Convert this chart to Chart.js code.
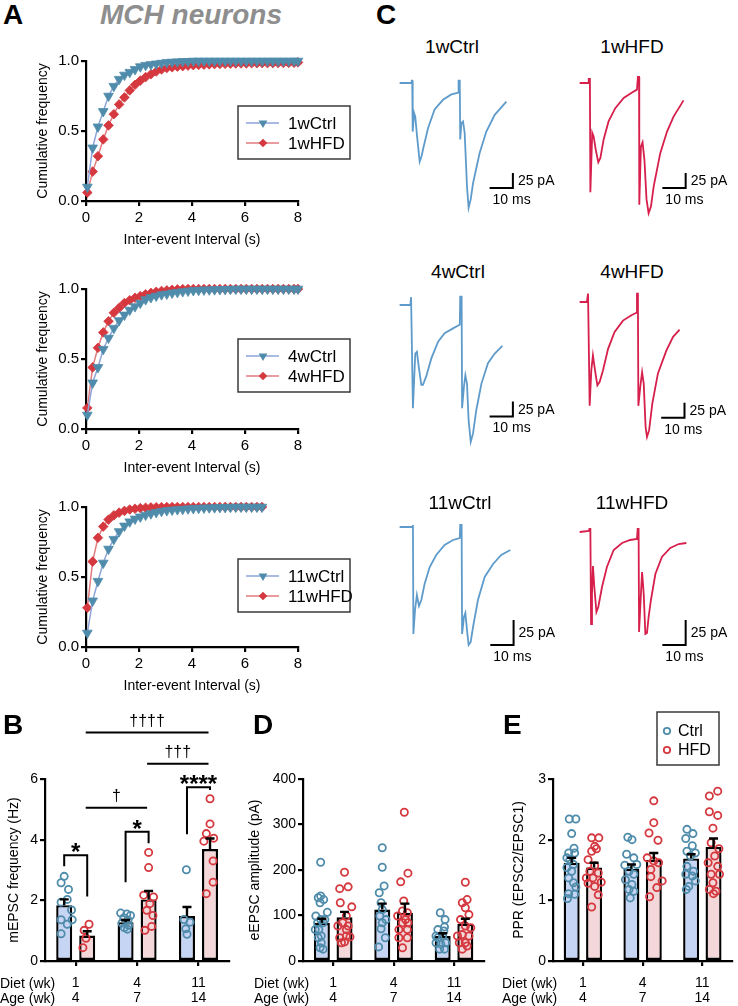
<!DOCTYPE html>
<html>
<head>
<meta charset="utf-8">
<script src="https://cdn.jsdelivr.net/npm/chart.js@4.4.1/dist/chart.umd.min.js"></script>
<style>
  body { margin: 0; background: #fff; width: 738px; height: 1006px; position: relative; overflow: hidden;
         font-family: "Liberation Sans", Arial, sans-serif; }
  canvas { position: absolute; }
  .lbl { position: absolute; white-space: nowrap; color: #000; }
  .panel { font-size: 28px; line-height: 28px; font-weight: bold; }
  .trace { font-size: 19px; line-height: 19px; width: 120px; text-align: center; }
  .row { font-size: 14px; line-height: 14px; }
</style>
</head>
<body>

<canvas id="cdf1" width="370" height="215" style="left:0;top:40px"></canvas>
<canvas id="cdf4" width="370" height="215" style="left:0;top:268px"></canvas>
<canvas id="cdf11" width="370" height="215" style="left:0;top:486px"></canvas>

<canvas id="tr1c" width="175" height="170" style="left:388px;top:65px"></canvas>
<canvas id="tr1h" width="170" height="170" style="left:568px;top:65px"></canvas>
<canvas id="tr4c" width="175" height="170" style="left:388px;top:287px"></canvas>
<canvas id="tr4h" width="170" height="170" style="left:568px;top:284px"></canvas>
<canvas id="tr11c" width="175" height="160" style="left:388px;top:512px"></canvas>
<canvas id="tr11h" width="170" height="160" style="left:568px;top:517px"></canvas>

<canvas id="freqChart" width="235" height="316" style="left:0;top:690px"></canvas>
<canvas id="ampChart" width="245" height="316" style="left:245px;top:690px"></canvas>
<canvas id="pprChart" width="238" height="316" style="left:500px;top:690px"></canvas>

<div class="lbl panel" style="left:3px;top:1px">A</div>
<div class="lbl panel" style="left:81px;top:1px;width:220px;text-align:center;color:#8e8e8e;font-style:italic">MCH neurons</div>
<div class="lbl panel" style="left:376px;top:1px">C</div>
<div class="lbl panel" style="left:3px;top:711px">B</div>
<div class="lbl panel" style="left:253px;top:711px">D</div>
<div class="lbl panel" style="left:503px;top:711px">E</div>

<div class="lbl trace" style="left:392px;top:37px">1wCtrl</div>
<div class="lbl trace" style="left:572px;top:37px">1wHFD</div>
<div class="lbl trace" style="left:398px;top:262px">4wCtrl</div>
<div class="lbl trace" style="left:572px;top:262px">4wHFD</div>
<div class="lbl trace" style="left:400px;top:493px">11wCtrl</div>
<div class="lbl trace" style="left:572px;top:493px">11wHFD</div>

<div class="lbl row" style="left:0;top:976px">Diet (wk)</div>
<div class="lbl row" style="left:0;top:991px">Age (wk)</div>
<div class="lbl row" style="left:254px;top:976px">Diet (wk)</div>
<div class="lbl row" style="left:254px;top:991px">Age (wk)</div>
<div class="lbl row" style="left:502px;top:976px">Diet (wk)</div>
<div class="lbl row" style="left:502px;top:991px">Age (wk)</div>

<script>
// ---- data: cumulative inter-event interval distributions (panel A) ----
const iei8 = [0.05, 0.25, 0.45, 0.65, 0.85, 1.05, 1.25, 1.45, 1.65, 1.85, 2.05, 2.25, 2.45, 2.65, 2.85,
  3.05, 3.25, 3.45, 3.65, 3.85, 4.05, 4.25, 4.45, 4.65, 4.85, 5.05, 5.25, 5.45, 5.65, 5.85, 6.05,
  6.25, 6.45, 6.65, 6.85, 7.05, 7.25, 7.45, 7.65, 7.85, 8.0];
const iei11 = [0.05, 0.25, 0.45, 0.65, 0.85, 1.05, 1.25, 1.45, 1.65, 1.85, 2.05, 2.25, 2.45, 2.65, 2.85,
  3.05, 3.25, 3.45, 3.65, 3.85, 4.05, 4.25, 4.45, 4.65, 4.85, 5.05, 5.25, 5.45, 5.65, 5.85, 6.05,
  6.25, 6.45, 6.64];

const cdf1Ctrl = [0.10, 0.38, 0.53, 0.64, 0.75, 0.82, 0.87, 0.90, 0.92, 0.94, 0.96, 0.97, 0.975, 0.98,
  0.985, 0.99, 0.993, 0.995, 0.997, 0.998, 1, 1, 1, 1, 1, 1, 1, 1, 1, 1, 1, 1, 1, 1, 1, 1, 1, 1, 1, 1, 1];
const cdf1Hfd = [0.06, 0.21, 0.32, 0.44, 0.54, 0.62, 0.69, 0.74, 0.79, 0.83, 0.86, 0.885, 0.905, 0.925,
  0.94, 0.95, 0.955, 0.96, 0.963, 0.967, 0.97, 0.972, 0.974, 0.976, 0.978, 0.979, 0.98, 0.981, 0.982,
  0.983, 0.983, 0.984, 0.984, 0.985, 0.985, 0.985, 0.986, 0.986, 0.986, 0.987, 0.99];
const cdf4Ctrl = [0.10, 0.33, 0.44, 0.57, 0.65, 0.72, 0.775, 0.815, 0.85, 0.875, 0.90, 0.925, 0.94, 0.95,
  0.96, 0.965, 0.972, 0.977, 0.982, 0.986, 0.99, 0.992, 0.994, 0.995, 0.996, 0.997, 0.998, 0.999,
  1, 1, 1, 1, 1, 1, 1, 1, 1, 1, 1, 1, 1];
const cdf4Hfd = [0.15, 0.44, 0.58, 0.69, 0.77, 0.83, 0.865, 0.90, 0.92, 0.937, 0.95, 0.962, 0.972, 0.98,
  0.986, 0.99, 0.994, 0.997, 0.999, 1, 1, 1, 1, 1, 1, 1, 1, 1, 1, 1, 1, 1, 1, 1, 1, 1, 1, 1, 1, 1, 1];
const cdf11Ctrl = [0.10, 0.33, 0.47, 0.60, 0.70, 0.77, 0.825, 0.865, 0.895, 0.915, 0.93, 0.943, 0.953,
  0.962, 0.97, 0.975, 0.979, 0.982, 0.985, 0.988, 0.99, 0.992, 0.994, 0.995, 0.996, 0.997, 0.998,
  0.999, 1, 1, 1, 1, 1, 1];
const cdf11Hfd = [0.28, 0.61, 0.78, 0.86, 0.91, 0.94, 0.96, 0.972, 0.982, 0.988, 0.992, 0.995, 0.997,
  0.998, 0.999, 1, 1, 1, 1, 1, 1, 1, 1, 1, 1, 1, 1, 1, 1, 1, 1, 1, 1, 1];

// ---- data: example eEPSC traces (panel C), time in ms, current in pA ----
const t1c = [0, 5.0, 5.2, 5.4, 5.6, 6.2, 6.7, 7.6, 8.6, 9.4, 10.3, 12.2, 15.0, 18.6, 22.2, 25.2, 25.3, 25.8,
  26.0, 26.5, 27.2, 27.9, 28.9, 29.6, 30.5, 31.5, 34.3, 37.2, 40.8, 45.8];
const i1c = [0, 0, 4, 4, -81, -50, -56, -94, -131, -122, -106, -75, -44, -28, -19, -16, 4, 4,
  -94, -67, -64, -83, -172, -208, -194, -167, -117, -81, -53, -31];
const t1h = [0, 3.7, 3.9, 4.4, 4.6, 5.4, 6.0, 6.9, 8.0, 8.9, 10.3, 12.4, 15.3, 18.9, 22.5, 24.6, 25.0, 25.5,
  25.6, 26.3, 27.0, 27.8, 28.7, 29.6, 30.6, 31.8, 34.6, 37.5, 40.3, 44.6];
const i1h = [0, 0, 7, 7, -182, -83, -89, -111, -132, -125, -94, -64, -42, -25, -16, -11, 10, 10,
  -203, -106, -99, -128, -194, -217, -206, -172, -117, -81, -56, -29];
const t4c = [0, 4.6, 4.9, 5.3, 5.7, 6.7, 7.4, 8.2, 9.3, 10.0, 11.4, 13.6, 16.5, 19.3, 22.9, 25.8, 26.0, 26.6,
  26.8, 27.6, 28.2, 28.9, 29.6, 30.5, 31.5, 32.9, 35.1, 37.9, 40.8, 44.1];
const i4c = [0, 0, 13, 13, -172, -81, -78, -103, -133, -133, -119, -89, -61, -47, -39, -33, 14, 14,
  -172, -136, -117, -131, -192, -228, -214, -175, -131, -97, -81, -68];
const t4h = [0, 3.1, 3.6, 4.0, 4.3, 5.0, 5.7, 6.6, 7.6, 8.6, 10.0, 12.2, 15.0, 18.6, 22.2, 24.3, 24.6, 25.0,
  25.2, 26.0, 26.8, 27.5, 28.3, 28.9, 29.8, 31.2, 33.6, 37.2, 40.1, 42.9];
const i4h = [0, 0, 14, 14, -173, -114, -89, -114, -139, -133, -114, -78, -50, -31, -22, -18, 14, 14,
  -173, -142, -117, -136, -208, -225, -214, -169, -119, -81, -58, -46];
const t11c = [0, 5.4, 5.7, 5.9, 6.6, 7.4, 8.3, 9.3, 10.7, 12.9, 15.7, 19.3, 22.9, 25.8, 26.0, 26.6, 26.8,
  27.6, 28.2, 28.9, 29.6, 30.5, 31.5, 33.6, 36.5, 40.1, 43.6, 47.5];
const i11c = [0, 0, 2, -107, -83, -68, -79, -73, -57, -40, -28, -18, -13, -11, 2, 2, -107,
  -90, -86, -103, -118, -115, -100, -73, -50, -37, -28, -23];
const t11h = [0, 3.9, 4.2, 4.6, 4.9, 5.3, 5.7, 6.3, 7.2, 8.0, 9.6, 11.7, 14.6, 18.2, 21.7, 24.6, 24.9, 25.3,
  25.5, 26.3, 26.8, 27.5, 28.2, 28.9, 29.6, 30.6, 32.5, 35.3, 38.9, 42.5, 45.8];
const i11h = [0, 1, 3, 3, -92, -62, -34, -55, -80, -75, -55, -35, -18, -11, -8, -7, 3, 3,
  -100, -62, -40, -62, -102, -101, -85, -68, -42, -25, -16, -12, -11];

// scale bars: 10 ms x 25 pA, start time and base current per trace (1c,1h,4c,4h,11c,11h)
const scaleMs = 10, scalePa = 25;
const scaleBarStart = [38.6, 35.5, 38.6, 35.0, 38.9, 35.5];
const scaleBarBase = [-175, -175, -186, -193, -118, -113];

// ---- data: group summaries (panels B, D, E) ----
const dietWk = ["1", "4", "11"];
const ageWk = ["4", "7", "14"];

const freqCtrlMean = [1.84, 1.28, 1.48];
const freqHfdMean = [0.84, 2.03, 3.69];
const freqCtrlSem = [0.19, 0.07, 0.30];
const freqHfdSem = [0.14, 0.28, 0.35];
const freqCtrlPts = [[2.79, 2.58, 2.36, 2.03, 1.94, 1.68, 1.36, 1.36, 1.21, 0.9],
  [1.58, 1.55, 1.5, 1.42, 1.35, 1.25, 1.18, 1.1, 1.05], [3.01, 1.37, 1.28, 1.06, 0.88]];
const freqCtrlJit = [[0, -0.05, 0.07, 0.05, -0.05, 0.12, -0.05, 0.13, 0.05, -0.05],
  [-0.08, 0.02, 0.08, -0.03, 0.04, -0.06, 0.05, -0.02, 0.03], [-0.01, -0.05, 0.05, -0.02, 0]];
const freqHfdPts = [[1.21, 1.01, 0.75, 0.44], [3.58, 3.08, 2.17, 2.11, 1.89, 1.67, 1.5, 1.14, 1.01],
  [5.35, 4.52, 4.2, 4.05, 3.95, 3.3, 2.6, 2.22]];
const freqHfdJit = [[0.03, -0.05, -0.02, -0.07], [0, 0, -0.08, 0.08, 0.02, -0.03, 0.07, 0.05, -0.06],
  [0, 0, -0.06, 0.06, -0.1, 0.05, 0.05, -0.06]];

const starBrackets = [
  { group: 0, top: 3.49, ctrlEnd: 3.12, hfdEnd: 2.13, text: "*" },
  { group: 1, top: 4.26, ctrlEnd: 2.6, hfdEnd: 3.88, text: "*" },
  { group: 2, top: 5.73, ctrlEnd: 4.18, hfdEnd: 5.64, text: "****" },
];
const daggerLines = [
  { from: 0, to: 1, y: 5.05, text: "†" },
  { from: 1, to: 2, y: 6.5, text: "†††" },
  { from: 0, to: 2, y: 7.53, text: "††††" },
];

const ampCtrlMean = [84, 113, 55];
const ampHfdMean = [96, 106, 82];
const ampCtrlSem = [9, 13, 6];
const ampHfdSem = [12, 20, 11];
const ampCtrlPts = [[217, 143, 139, 135, 128, 107, 99, 91, 91, 84, 84, 69, 69, 55, 51, 40, 29, 26],
  [249, 206, 165, 150, 128, 113, 99, 91, 84, 71, 51, 31],
  [106, 91, 75, 69, 55, 40, 37, 40, 26, 26, 51, 66, 55]];
const ampCtrlJit = [[-0.02, -0.02, -0.06, 0.03, -0.03, 0.09, -0.1, -0.02, 0.05, -0.07, 0.02, -0.05, -0.11, -0.01, -0.06, -0.01, -0.03, 0.02],
  [0, 0, 0.03, -0.05, -0.02, 0, -0.04, 0.06, 0, -0.02, 0.05, -0.06],
  [-0.04, 0.04, 0.03, -0.08, 0, -0.11, -0.03, 0.05, -0.05, 0.03, -0.08, 0.02, -0.11]];
const ampHfdPts = [[195, 159, 163, 128, 119, 99, 84, 77, 77, 69, 51, 53, 40, 42, 55],
  [327, 193, 174, 132, 110, 106, 99, 91, 84, 69, 69, 51, 51, 29, 84],
  [173, 135, 128, 117, 102, 91, 77, 73, 58, 55, 40, 40, 26, 33, 55]];
const ampHfdJit = [[0, -0.08, 0.06, -0.07, 0.12, 0.03, -0.03, 0.06, -0.11, 0.03, -0.08, 0.09, -0.05, 0, 0.03],
  [-0.01, 0.05, -0.07, -0.02, -0.04, 0.04, -0.12, 0.01, -0.04, -0.1, 0.04, -0.1, 0.04, -0.04, 0.05],
  [0, 0.03, -0.05, 0, 0.06, -0.08, 0, 0.09, -0.05, 0.06, -0.1, 0, -0.05, 0.03, -0.13]];

const pprCtrlMean = [1.62, 1.52, 1.69];
const pprHfdMean = [1.54, 1.67, 1.88];
const pprCtrlSem = [0.08, 0.07, 0.07];
const pprHfdSem = [0.08, 0.11, 0.14];
const pprCtrlPts = [[2.34, 2.34, 2.10, 1.86, 1.78, 1.78, 1.70, 1.67, 1.59, 1.54, 1.48, 1.37, 1.29, 1.22, 1.11, 1.10, 1.03],
  [2.04, 2.00, 1.76, 1.70, 1.58, 1.59, 1.48, 1.43, 1.34, 1.26, 1.18, 1.15, 1.04],
  [2.17, 2.10, 2.02, 1.90, 1.81, 1.78, 1.73, 1.56, 1.48, 1.43, 1.40, 1.32, 1.23, 1.18]];
const pprCtrlJit = [[-0.04, 0.07, 0, 0.04, -0.05, 0.05, -0.08, -0.03, 0.03, -0.08, 0, -0.05, 0.03, 0.07, -0.05, 0.05, -0.07],
  [-0.06, 0.01, -0.08, 0.04, -0.11, 0.09, -0.04, 0.04, -0.1, 0.01, -0.04, 0.04, -0.02],
  [-0.07, 0.03, -0.09, 0.02, -0.07, 0.07, -0.01, -0.07, 0.04, -0.09, 0.02, 0.07, -0.04, -0.08]];
const pprHfdPts = [[2.03, 2.03, 1.89, 1.81, 1.85, 1.67, 1.57, 1.48, 1.45, 1.37, 1.37, 1.30, 1.28, 1.23, 1.09, 0.89],
  [2.64, 2.28, 2.11, 1.99, 1.70, 1.65, 1.62, 1.51, 1.39, 1.32, 1.21, 1.06],
  [2.72, 2.80, 2.46, 2.40, 2.19, 1.95, 1.85, 1.73, 1.62, 1.56, 1.43, 1.43, 1.29, 1.18, 1.15, 1.11]];
const pprHfdJit = [[-0.04, 0.08, 0.01, -0.04, 0.04, -0.1, 0.01, -0.07, 0.07, -0.13, -0.02, 0.12, -0.1, 0.01, 0.07, -0.04],
  [0, 0, -0.08, 0.07, -0.11, 0, 0.08, -0.05, -0.05, 0.14, 0.05, -0.07],
  [-0.07, 0.07, -0.07, 0.07, -0.01, -0.04, 0.09, 0.02, -0.09, 0.07, -0.04, 0.1, -0.01, -0.07, 0.04, 0]];

// ---- styles ----
const FONT = '"Liberation Sans", Arial, sans-serif';
const CTRL_DOT = "#4f8cab", HFD_DOT = "#d5383f";
const CTRL_LINE = "#8ea5da", HFD_LINE = "#e27b7f";
const CTRL_BAR = "#c7d5f4", HFD_BAR = "#f4d8d9";
const TRACE_BLUE = "#5e9bcb", TRACE_RED = "#d61f4b";
const GROUP_OFFSET = 0.1875; // ctrl / hfd bar centre offset from the group tick

Chart.defaults.font.family = FONT;
Chart.defaults.color = "#000";
Chart.defaults.animation = false;
Chart.defaults.events = [];
Chart.defaults.plugins.legend.display = false;
Chart.defaults.plugins.tooltip.enabled = false;

const axisGrid = { drawOnChartArea: false, tickLength: 5, color: "#000", lineWidth: 2.2, offset: false };
const axisBorder = { display: true, color: "#000", width: 2.2 };

// legend box inside the cumulative plots
const cdfLegend = {
  id: "cdfLegend",
  afterDraw(chart, args, opts) {
    const { ctx, chartArea } = chart;
    const bx = chartArea.left + 152, by = chartArea.top + opts.dy;
    ctx.save();
    ctx.lineWidth = 1.5;
    ctx.strokeStyle = "#3a3a3a";
    ctx.strokeRect(bx, by, 112, 53);
    chart.data.datasets.forEach((ds, i) => {
      const cy = by + 17 + i * 20, mx = bx + 25, r = ds.pointRadius * 0.9;
      ctx.strokeStyle = ds.borderColor;
      ctx.lineWidth = 1.5;
      ctx.beginPath();
      ctx.moveTo(bx + 8, cy);
      ctx.lineTo(bx + 41, cy);
      ctx.stroke();
      ctx.fillStyle = ds.pointBackgroundColor;
      ctx.beginPath();
      if (ds.pointStyle === "triangle") {
        ctx.moveTo(mx - r * 0.87, cy - r * 0.5);
        ctx.lineTo(mx + r * 0.87, cy - r * 0.5);
        ctx.lineTo(mx, cy + r);
      } else {
        ctx.moveTo(mx, cy - r);
        ctx.lineTo(mx + r, cy);
        ctx.lineTo(mx, cy + r);
        ctx.lineTo(mx - r, cy);
      }
      ctx.closePath();
      ctx.fill();
      ctx.fillStyle = "#000";
      ctx.font = "17px " + FONT;
      ctx.textAlign = "left";
      ctx.textBaseline = "middle";
      ctx.fillText(ds.label, bx + 50, cy + 1);
    });
    ctx.restore();
  },
};

function cdfChart(id, xs, ctrl, hfd, names, legendDy) {
  const toPts = (ys) => xs.map((x, i) => ({ x: x, y: ys[i] }));
  new Chart(document.getElementById(id), {
    type: "line",
    data: {
      datasets: [
        {
          label: names[0], data: toPts(ctrl), borderColor: CTRL_LINE, borderWidth: 1.5, tension: 0,
          pointStyle: "triangle", pointRotation: 180, pointRadius: 5.6,
          pointBackgroundColor: CTRL_DOT, pointBorderColor: CTRL_DOT, pointBorderWidth: 0.8,
        },
        {
          label: names[1], data: toPts(hfd), borderColor: HFD_LINE, borderWidth: 1.5, tension: 0,
          pointStyle: "rectRot", pointRadius: 4.8,
          pointBackgroundColor: HFD_DOT, pointBorderColor: HFD_DOT, pointBorderWidth: 0.8,
        },
      ],
    },
    options: {
      responsive: false,
      clip: false,
      layout: { padding: { top: 21, right: 72, left: 0, bottom: 0 } },
      scales: {
        x: {
          type: "linear", min: 0, max: 8,
          ticks: { stepSize: 2, font: { size: 15 }, padding: 3 },
          grid: axisGrid, border: axisBorder,
          title: { display: true, text: "Inter-event Interval (s)", font: { size: 14 }, padding: { top: 0, bottom: 6.6 } },
          afterFit: (s) => { s.height = 54; },
        },
        y: {
          min: 0, max: 1,
          ticks: { stepSize: 0.5, font: { size: 15 }, padding: 2, callback: (v) => v.toFixed(1) },
          grid: axisGrid, border: axisBorder,
          title: { display: true, text: "Cumulative frequency", font: { size: 14 }, padding: { top: 34.6, bottom: 0 } },
          afterFit: (s) => { s.width = 86; },
        },
      },
      plugins: { cdfLegend: { dy: legendDy } },
    },
    plugins: [cdfLegend],
  });
}

cdfChart("cdf1", iei8, cdf1Ctrl, cdf1Hfd, ["1wCtrl", "1wHFD"], 45);
cdfChart("cdf4", iei8, cdf4Ctrl, cdf4Hfd, ["4wCtrl", "4wHFD"], 50);
cdfChart("cdf11", iei11, cdf11Ctrl, cdf11Hfd, ["11wCtrl", "11wHFD"], 52);

// ---- traces ----
const MS_PX = 2.33;
const scaleBarLabels = {
  id: "scaleBarLabels",
  afterDraw(chart) {
    const pts = chart.getDatasetMeta(1).data;
    const ctx = chart.ctx;
    ctx.save();
    ctx.fillStyle = "#000";
    ctx.font = "14px " + FONT;
    ctx.textAlign = "left";
    ctx.textBaseline = "middle";
    ctx.fillText(scalePa + " pA", pts[1].x + 5, (pts[1].y + pts[2].y) / 2 + 1);
    ctx.fillText(scaleMs + " ms", pts[0].x + 3, pts[1].y + 12);
    ctx.restore();
  },
};

function traceChart(id, t, amp, color, k, ymax, yPer) {
  const cv = document.getElementById(id);
  const t0 = scaleBarStart[k], i0 = scaleBarBase[k];
  new Chart(cv, {
    type: "line",
    data: {
      datasets: [
        { data: t.map((x, i) => ({ x: x, y: amp[i] })), borderColor: color, borderWidth: 1.8, pointRadius: 0, tension: 0 },
        {
          data: [{ x: t0, y: i0 }, { x: t0 + scaleMs, y: i0 }, { x: t0 + scaleMs, y: i0 + scalePa }],
          borderColor: "#000", borderWidth: 2, pointRadius: 0, tension: 0,
        },
      ],
    },
    options: {
      responsive: false,
      clip: false,
      layout: { padding: 0 },
      scales: {
        x: { type: "linear", display: false, min: -5, max: -5 + cv.width / MS_PX },
        y: { display: false, min: ymax - cv.height / yPer, max: ymax },
      },
    },
    plugins: [scaleBarLabels],
  });
}

traceChart("tr1c", t1c, i1c, TRACE_BLUE, 0, 30, 0.6);
traceChart("tr1h", t1h, i1h, TRACE_RED, 1, 30, 0.6);
traceChart("tr4c", t4c, i4c, TRACE_BLUE, 2, 30, 0.6);
traceChart("tr4h", t4h, i4h, TRACE_RED, 3, 30, 0.6);
traceChart("tr11c", t11c, i11c, TRACE_BLUE, 4, 15, 1);
traceChart("tr11h", t11h, i11h, TRACE_RED, 5, 15, 1);

// ---- grouped bar charts ----
const errBars = {
  id: "errBars",
  afterDatasetsDraw(chart, args, opts) {
    const { ctx } = chart;
    const ys = chart.scales.y;
    ctx.save();
    ctx.strokeStyle = "#000";
    ctx.lineWidth = 2.4;
    opts.sem.forEach((semArr, di) => {
      chart.getDatasetMeta(di).data.forEach((bar, i) => {
        const v = chart.data.datasets[di].data[i].y;
        const top = ys.getPixelForValue(v + semArr[i]);
        ctx.beginPath();
        ctx.moveTo(bar.x, bar.y);
        ctx.lineTo(bar.x, top);
        ctx.moveTo(bar.x - 4.5, top);
        ctx.lineTo(bar.x + 4.5, top);
        ctx.stroke();
      });
    });
    ctx.restore();
  },
};

const sigMarks = {
  id: "sigMarks",
  afterDatasetsDraw(chart) {
    const { ctx } = chart;
    const ys = chart.scales.y;
    const barX = (ds, g) => chart.getDatasetMeta(ds).data[g].x;
    ctx.save();
    ctx.strokeStyle = "#000";
    ctx.fillStyle = "#000";
    ctx.lineWidth = 2;
    ctx.textAlign = "center";
    ctx.textBaseline = "alphabetic";
    starBrackets.forEach((b) => {
      const x0 = barX(0, b.group), x1 = barX(1, b.group), yt = ys.getPixelForValue(b.top);
      ctx.beginPath();
      ctx.moveTo(x0, ys.getPixelForValue(b.ctrlEnd));
      ctx.lineTo(x0, yt);
      ctx.lineTo(x1, yt);
      ctx.lineTo(x1, ys.getPixelForValue(b.hfdEnd));
      ctx.stroke();
      ctx.font = "bold 24px " + FONT;
      ctx.fillText(b.text, (x0 + x1) / 2, yt + 5);
    });
    daggerLines.forEach((d) => {
      const x0 = barX(1, d.from) - 1.5, x1 = barX(1, d.to) - 1.5, yl = ys.getPixelForValue(d.y);
      ctx.beginPath();
      ctx.moveTo(x0, yl);
      ctx.lineTo(x1, yl);
      ctx.stroke();
      ctx.font = "16px " + FONT;
      ctx.fillText(d.text, (x0 + x1) / 2, yl - 7);
    });
    ctx.restore();
  },
};

const pprLegend = {
  id: "pprLegend",
  afterDraw(chart) {
    const { ctx } = chart;
    ctx.save();
    ctx.strokeStyle = "#3a3a3a";
    ctx.lineWidth = 1.5;
    ctx.strokeRect(157, 22, 62, 53);
    [2, 3].forEach((di, row) => {
      const ds = chart.data.datasets[di];
      const cy = 41 + row * 19;
      ctx.strokeStyle = ds.borderColor;
      ctx.lineWidth = 1.8;
      ctx.beginPath();
      ctx.arc(167, cy, 3.2, 0, Math.PI * 2);
      ctx.stroke();
      ctx.fillStyle = "#000";
      ctx.font = "16px " + FONT;
      ctx.textAlign = "left";
      ctx.textBaseline = "middle";
      ctx.fillText(ds.label, 178, cy + 1);
    });
    ctx.restore();
  },
};

function groupChart(id, c) {
  const barPts = (means, side) => means.map((v, g) => ({ x: g + side * GROUP_OFFSET, y: v }));
  const pts = (vals, jit, side) => {
    const out = [];
    vals.forEach((grp, g) => grp.forEach((v, k) => out.push({ x: g + side * GROUP_OFFSET + jit[g][k], y: v })));
    return out;
  };
  const plugins = [errBars];
  if (c.extra) plugins.push(c.extra);
  const barStyle = { borderColor: "#000", borderWidth: 2.4, borderSkipped: false, grouped: false,
    maxBarThickness: 16, order: 2 };
  new Chart(document.getElementById(id), {
    type: "bar",
    data: {
      datasets: [
        Object.assign({ label: "Ctrl", data: barPts(c.ctrlMean, -1), backgroundColor: CTRL_BAR }, barStyle),
        Object.assign({ label: "HFD", data: barPts(c.hfdMean, 1), backgroundColor: HFD_BAR }, barStyle),
        { type: "scatter", label: "Ctrl", data: pts(c.ctrlPts, c.ctrlJit, -1),
          borderColor: CTRL_DOT, backgroundColor: "rgba(0,0,0,0)", borderWidth: 1.8, pointRadius: 3.6, order: 1 },
        { type: "scatter", label: "HFD", data: pts(c.hfdPts, c.hfdJit, 1),
          borderColor: HFD_DOT, backgroundColor: "rgba(0,0,0,0)", borderWidth: 1.8, pointRadius: 3.6, order: 1 },
      ],
    },
    options: {
      responsive: false,
      clip: false,
      layout: { padding: { top: 89, right: c.padRight, left: 0, bottom: 0 } },
      scales: {
        x: {
          type: "linear", min: -0.5, max: 2.5, offset: false,
          afterBuildTicks: (s) => { s.ticks = dietWk.map((d, i) => ({ value: i })); },
          ticks: { font: { size: 14, lineHeight: 1.11 }, padding: 9, callback: (v) => [dietWk[v], ageWk[v]] },
          grid: axisGrid, border: axisBorder,
          afterFit: (s) => { s.height = 45; },
        },
        y: {
          min: 0, max: c.yMax,
          ticks: { stepSize: c.yStep, font: { size: 14 }, padding: 2 },
          grid: axisGrid, border: axisBorder,
          title: { display: true, text: c.yTitle, font: { size: 14 }, padding: { top: c.titlePad, bottom: 0 } },
          afterFit: (s) => { s.width = c.yWidth; },
        },
      },
      plugins: { errBars: { sem: [c.ctrlSem, c.hfdSem] } },
    },
    plugins: plugins,
  });
}

groupChart("freqChart", {
  ctrlMean: freqCtrlMean, hfdMean: freqHfdMean, ctrlSem: freqCtrlSem, hfdSem: freqHfdSem,
  ctrlPts: freqCtrlPts, ctrlJit: freqCtrlJit, hfdPts: freqHfdPts, hfdJit: freqHfdJit,
  yMax: 6, yStep: 2, yTitle: "mEPSC frequency (Hz)", yWidth: 45, titlePad: 6, padRight: 5, extra: sigMarks,
});
groupChart("ampChart", {
  ctrlMean: ampCtrlMean, hfdMean: ampHfdMean, ctrlSem: ampCtrlSem, hfdSem: ampHfdSem,
  ctrlPts: ampCtrlPts, ctrlJit: ampCtrlJit, hfdPts: ampHfdPts, hfdJit: ampHfdJit,
  yMax: 400, yStep: 100, yTitle: "eEPSC amplitude (pA)", yWidth: 58, titlePad: 1.6, padRight: 3,
});
groupChart("pprChart", {
  ctrlMean: pprCtrlMean, hfdMean: pprHfdMean, ctrlSem: pprCtrlSem, hfdSem: pprHfdSem,
  ctrlPts: pprCtrlPts, ctrlJit: pprCtrlJit, hfdPts: pprHfdPts, hfdJit: pprHfdJit,
  yMax: 3, yStep: 1, yTitle: "PPR (EPSC2/EPSC1)", yWidth: 53, titlePad: 10.6, padRight: 0, extra: pprLegend,
});
</script>
</body>
</html>
